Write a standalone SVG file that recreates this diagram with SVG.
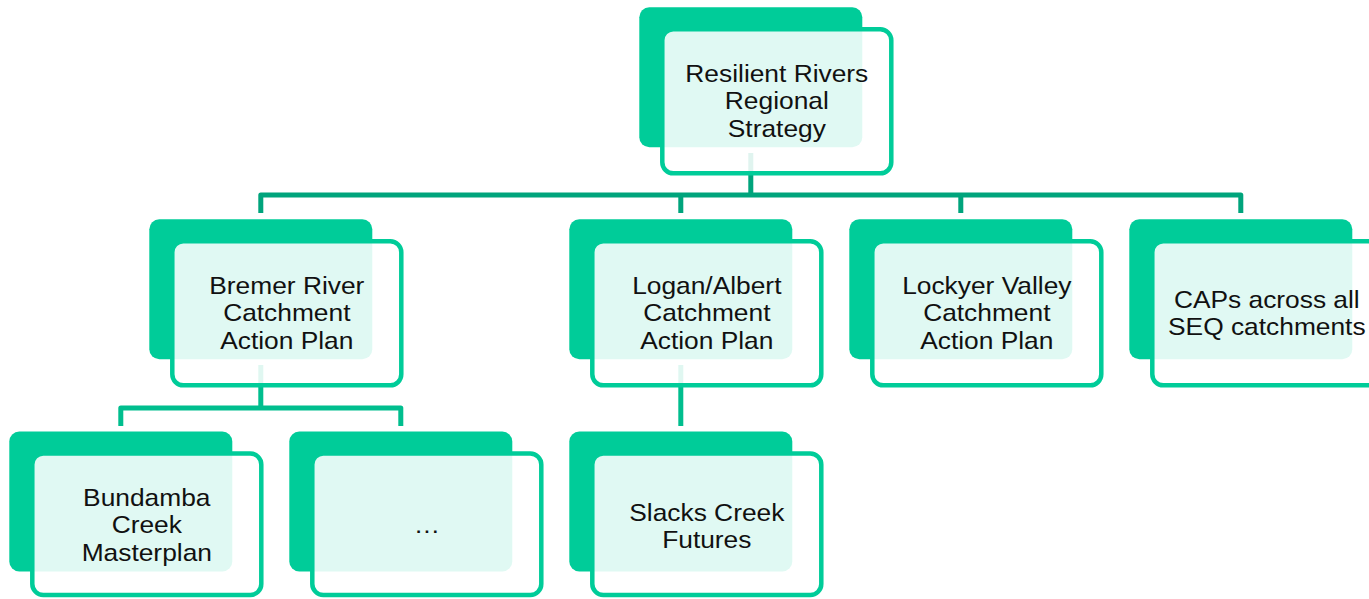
<svg xmlns="http://www.w3.org/2000/svg" width="1369" height="599" viewBox="0 0 1369 599">
<style>
.back{fill:#00CC99;}
.front{fill:#ffffff;fill-opacity:0.88;stroke:#00CC99;stroke-width:4.5;}
.c1{fill:none;stroke:#00A47C;stroke-width:5;stroke-linejoin:round;}
.c2{fill:none;stroke:#00BE8E;stroke-width:5;stroke-linejoin:round;}
.t{font-family:"Liberation Sans",Arial,sans-serif;font-size:24.4px;fill:#111;text-anchor:middle;}
</style>
<rect width="1369" height="599" fill="#ffffff"/>
<g id="connectors">
<path class="c1" d="M750.8,153 V195 M260.8,213 V195 H1240.8 V213 M680.8,195 V213 M960.8,195 V213"/>
<path class="c2" d="M260.8,365 V408 M120.8,426 V408 H400.8 V426"/>
<path class="c2" d="M680.8,365 V426"/>
</g>
<g id="node-resilient">
<rect class="back" x="639.3" y="7.3" width="223" height="140" rx="10"/>
<rect class="front" x="662.3" y="29.3" width="229" height="144" rx="11"/>
<g transform="translate(776.8,0) scale(1.08,1)"><text class="t" x="0" y="81.7">Resilient Rivers</text><text class="t" x="0" y="109.2">Regional</text><text class="t" x="0" y="136.7">Strategy</text></g>
</g>
<g id="node-bremer">
<rect class="back" x="149.3" y="219.3" width="223" height="140" rx="10"/>
<rect class="front" x="172.3" y="241.3" width="229" height="144" rx="11"/>
<g transform="translate(286.8,0) scale(1.08,1)"><text class="t" x="0" y="293.8">Bremer River</text><text class="t" x="0" y="321.3">Catchment</text><text class="t" x="0" y="348.8">Action Plan</text></g>
</g>
<g id="node-logan">
<rect class="back" x="569.3" y="219.3" width="223" height="140" rx="10"/>
<rect class="front" x="592.3" y="241.3" width="229" height="144" rx="11"/>
<g transform="translate(706.8,0) scale(1.08,1)"><text class="t" x="0" y="293.8">Logan/Albert</text><text class="t" x="0" y="321.3">Catchment</text><text class="t" x="0" y="348.8">Action Plan</text></g>
</g>
<g id="node-lockyer">
<rect class="back" x="849.3" y="219.3" width="223" height="140" rx="10"/>
<rect class="front" x="872.3" y="241.3" width="229" height="144" rx="11"/>
<g transform="translate(986.8,0) scale(1.08,1)"><text class="t" x="0" y="293.8">Lockyer Valley</text><text class="t" x="0" y="321.3">Catchment</text><text class="t" x="0" y="348.8">Action Plan</text></g>
</g>
<g id="node-caps">
<rect class="back" x="1129.3" y="219.3" width="223" height="140" rx="10"/>
<rect class="front" x="1152.3" y="241.3" width="229" height="144" rx="11"/>
<g transform="translate(1266.8,0) scale(1.08,1)"><text class="t" x="0" y="307.6">CAPs across all</text><text class="t" x="0" y="335.1">SEQ catchments</text></g>
</g>
<g id="node-bundamba">
<rect class="back" x="9.3" y="431.5" width="223" height="140" rx="10"/>
<rect class="front" x="32.3" y="453.5" width="229" height="141.5" rx="11"/>
<g transform="translate(146.8,0) scale(1.08,1)"><text class="t" x="0" y="506">Bundamba</text><text class="t" x="0" y="533.5">Creek</text><text class="t" x="0" y="561">Masterplan</text></g>
</g>
<g id="node-more">
<rect class="back" x="289.3" y="431.5" width="223" height="140" rx="10"/>
<rect class="front" x="312.3" y="453.5" width="229" height="141.5" rx="11"/>
<g transform="translate(426.8,0) scale(1.08,1)"><text class="t" x="0" y="533.5">…</text></g>
</g>
<g id="node-slacks">
<rect class="back" x="569.3" y="431.5" width="223" height="140" rx="10"/>
<rect class="front" x="592.3" y="453.5" width="229" height="141.5" rx="11"/>
<g transform="translate(706.8,0) scale(1.08,1)"><text class="t" x="0" y="520.7">Slacks Creek</text><text class="t" x="0" y="548.2">Futures</text></g>
</g>
</svg>
